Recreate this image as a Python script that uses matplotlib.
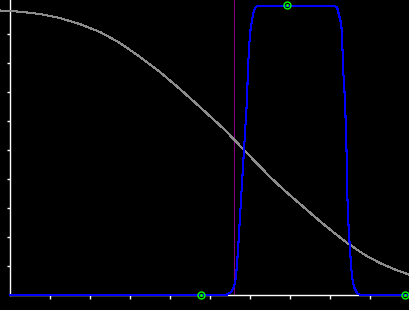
import numpy as np
import matplotlib
matplotlib.use("Agg")
import matplotlib.pyplot as plt

# white/gray decreasing curve
grey_x = [-0.25, 0.25, 0.75, 1.25, 1.75, 2.25, 2.75, 3.25, 3.75, 4.25, 4.75,
          5.375, 5.85, 6.25, 6.5, 6.875, 7.25, 7.625, 7.875, 8.125, 8.375,
          8.625, 8.875, 9.25, 9.625, 10.0]
grey_y = [0.981, 0.977, 0.969, 0.955, 0.934, 0.907, 0.869, 0.821, 0.769,
          0.710, 0.648, 0.569, 0.5, 0.443, 0.407, 0.359, 0.314, 0.269, 0.24,
          0.212, 0.185, 0.161, 0.138, 0.110, 0.088, 0.069]

# blue flat-top curve
blue_x = [0.0, 5.4, 5.525, 5.6, 5.65, 5.7, 5.75, 5.8, 5.85, 5.875, 5.925,
          5.95, 6.0, 6.05, 6.1, 6.15, 6.2, 8.075, 8.175, 8.225, 8.275, 8.3,
          8.325, 8.375, 8.4, 8.4125, 8.425, 8.45, 8.5, 8.55, 8.6, 8.675,
          8.75, 10.0]
blue_y = [0.0, 0.0, 0.01, 0.028, 0.062, 0.155, 0.269, 0.386, 0.5, 0.559,
          0.672, 0.786, 0.903, 0.948, 0.983, 0.993, 0.998, 0.998, 0.993,
          0.966, 0.938, 0.903, 0.786, 0.672, 0.559, 0.5, 0.386, 0.269, 0.155,
          0.062, 0.028, 0.007, 0.0, 0.0]

# markers and the vertical marker line
pts_x = [4.775, 6.925, 9.875]
pts_y = [0.0, 0.999, 0.0]
vline_x = 5.6

x_ticks = [1, 2, 3, 4, 5, 6, 7, 8, 9]
y_ticks = [0.1, 0.2, 0.3, 0.4, 0.5, 0.6, 0.7, 0.8, 0.9]

fig = plt.figure(figsize=(4.1, 3.1), dpi=100, facecolor="black")
ax = fig.add_axes([0, 0, 1, 1], facecolor="black")
y_top = 295 / 290
y_bot = -15 / 290
ax.set_xlim(-0.25, 10.0)
ax.set_ylim(y_bot, y_top)

ax.axvline(vline_x, ymin=15 / 310, ymax=1, color="#800080", lw=0.6,
           antialiased=False, zorder=2)
ax.plot(grey_x, grey_y, color="#8c8c8c", lw=0.75, antialiased=False, zorder=3)
ax.plot(blue_x, blue_y, color="#0000ff", lw=0.75, antialiased=False, zorder=4)
ax.plot(pts_x, pts_y, "o", ms=5, mfc="none", mec="#00ff00", mew=1.0,
        zorder=5, clip_on=False)
ax.plot(pts_x, pts_y, "s", ms=1, color="#00ff00", zorder=5, clip_on=False)

for s in ["top", "right"]:
    ax.spines[s].set_visible(False)
ax.spines["left"].set_position(("data", 0))
ax.spines["bottom"].set_position(("data", 0))
ax.spines["left"].set_bounds(0, y_top)
ax.spines["bottom"].set_bounds(0, 10)
for s in ["left", "bottom"]:
    ax.spines[s].set_color("white")
    ax.spines[s].set_linewidth(1.0)

ax.set_xticks(x_ticks)
ax.set_yticks(y_ticks)
ax.set_xticklabels([])
ax.set_yticklabels([])
ax.tick_params(axis="x", direction="out", length=3, width=1, color="white")
ax.tick_params(axis="y", direction="out", length=2.5, width=1, color="white")

fig.savefig("out.png", dpi=100, facecolor="black")
